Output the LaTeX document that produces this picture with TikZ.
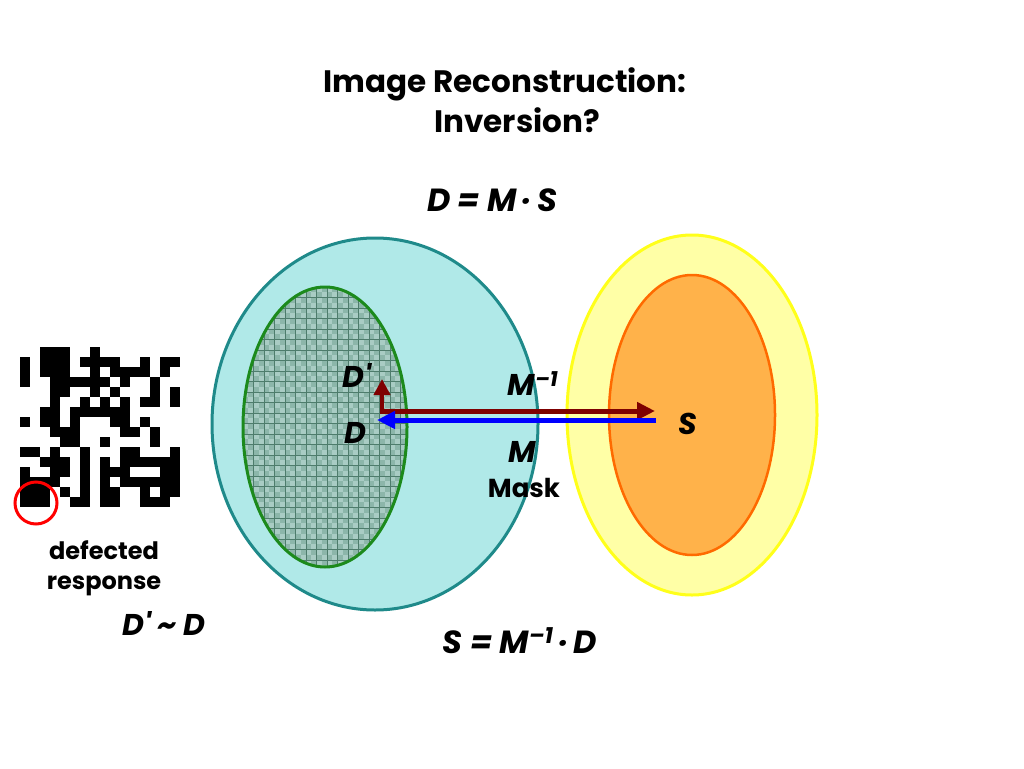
\documentclass[tikz,border=0pt]{standalone}
\usepackage{fontspec}
\setmainfont{Poppins}
\usetikzlibrary{arrows.meta}
\definecolor{tealline}{HTML}{1F8A8A}
\definecolor{tealfill}{HTML}{B0E9E8}
\definecolor{grnline}{HTML}{1C8A1C}
\definecolor{gridfill}{HTML}{8CB6AA}
\definecolor{gridlight}{HTML}{A9CCC4}
\definecolor{gridline}{HTML}{4E7C6C}
\definecolor{yelline}{HTML}{FFFF1A}
\definecolor{yelfill}{HTML}{FFFFA6}
\definecolor{orgline}{HTML}{FF6A00}
\definecolor{orgfill}{HTML}{FFB24A}
\definecolor{maroon}{HTML}{7F0000}
\definecolor{arrblue}{HTML}{0000FF}
\begin{document}
\begin{tikzpicture}[x=1pt,y=-1pt,
  title/.style={font=\bfseries\fontsize{31}{35}\selectfont, inner sep=0pt, anchor=base},
  mathlbl/.style={font=\bfseries\itshape\fontsize{30}{34}\selectfont, inner sep=0pt},
  plain/.style={font=\bfseries\fontsize{24}{28}\selectfont, inner sep=0pt},
  arr/.style={line width=5pt, -{Triangle[length=18pt,width=17pt]}},
  qr/.style={fill=black}]
\path[fill=white] (0,0) rectangle (1024,768);
\useasboundingbox (0,0) rectangle (1024,768);

% title
\node[title] (t1) at (505,92) {Image Reconstruction:};
\node[title] (t2) at (517,132) {Inversion?};
\node[mathlbl, anchor=base, font=\bfseries\itshape\fontsize{32}{36}\selectfont] (eq1) at (492,211) {D = M\,·\,S};

% outer teal ellipse
\draw[tealline, line width=3pt, fill=tealfill] (375,424) ellipse [x radius=163, y radius=186];
% inner gridded ellipse
\fill[gridfill] (325,427) ellipse [x radius=82, y radius=140];
\begin{scope}
  \clip (325,427) ellipse [x radius=82, y radius=140];
  \foreach \i in {0,...,31}{
    \foreach \j in {0,...,27}{
      \pgfmathsetmacro{\yy}{287+10.5*\j+5.25*mod(\i,2)}
      \fill[gridlight] (243+5.25*\i,\yy) rectangle ++(5.25,5.25);
    }
  }
  \foreach \k in {0,...,16}{
    \draw[gridline, line width=0.7pt] (243+10.5*\k,280) -- (243+10.5*\k,575);
  }
  \foreach \k in {0,...,28}{
    \draw[gridline, line width=0.7pt] (238,287+10.5*\k) -- (412,287+10.5*\k);
  }
\end{scope}
\draw[grnline, line width=3pt] (325,427) ellipse [x radius=82, y radius=140];

% right ellipses
\draw[yelline, line width=3pt, fill=yelfill] (692,415) ellipse [x radius=125, y radius=180];
\draw[orgline, line width=2.5pt, fill=orgfill] (692,415) ellipse [x radius=83, y radius=140];

% arrow end points
\coordinate (dcorner) at (382,414);
\coordinate (dtop) at (382,379);
\coordinate (rstart) at (380,411);
\coordinate (rend) at (655,411);
\coordinate (bstart) at (656,420);
\coordinate (bend) at (377,420);

\draw[arr, maroon] (rstart) -- (rend);
\draw[arr, arrblue] (bstart) -- (bend);
\draw[maroon, line width=4.5pt, -{Triangle[length=16pt,width=16pt]}] (dcorner) -- (dtop);

% labels
\node[mathlbl] (dp) at (357,375) {D\textquotesingle};
\node[mathlbl] (dd) at (355,433) {D};
\node[mathlbl] (minv) at (533,384) {M\textsuperscript{–1}};
\node[mathlbl] (ss) at (688,424) {S};
\node[mathlbl] (mm) at (522,452) {M};
\node[plain, font=\bfseries\fontsize{26}{30}\selectfont] (mask) at (524,488) {Mask};

% QR-like defected response
\foreach \r/\cols in {0/{2,3,4,7},
  1/{0,2,3,4,6,7,8,9,12,14,15},
  2/{0,2,3,4,7,9,10,11,12,14},
  3/{0,3,4,5,6,7,8,10,13},
  4/{3,4,7,9,13,15},
  5/{3,6,8,10,12,13,15},
  6/{2,3,5,6,7,8,9,10},
  7/{0,2,3,5,9,10,12},
  8/{3,4,5,10,11,13},
  9/{4,5,8,13},
  10/{0,1,3,6,10,11,15},
  11/{2,3,4,6,8,10,11,12,13,14,15},
  12/{0,3,4,6,8,9,10,14,15},
  13/{0,1,2,3,6,8,10,11,12,13,14,15},
  14/{0,1,2,4,6,8,9,12,14,15},
  15/{0,1,2,5,6,8,9,12,13,14}}{
  \foreach \c in \cols {
    \fill[qr] (20+10*\c,347+10*\r) rectangle ++(10.2,10.2);
  }
}
\node[draw=red, line width=3pt, circle, minimum size=42pt, inner sep=0pt] (defect) at (36,503) {};

\node[plain, anchor=base] (def1) at (104,559) {defected};
\node[plain, anchor=base] (def2) at (104,589) {response};
\node[mathlbl] (dsim) at (164,623) {D\textquotesingle{} \textasciitilde{} D};
\node[mathlbl, anchor=base, font=\bfseries\itshape\fontsize{32}{36}\selectfont] (eq2) at (520,653) {S = M\textsuperscript{–1}\,·\,D};
\end{tikzpicture}
\end{document}
